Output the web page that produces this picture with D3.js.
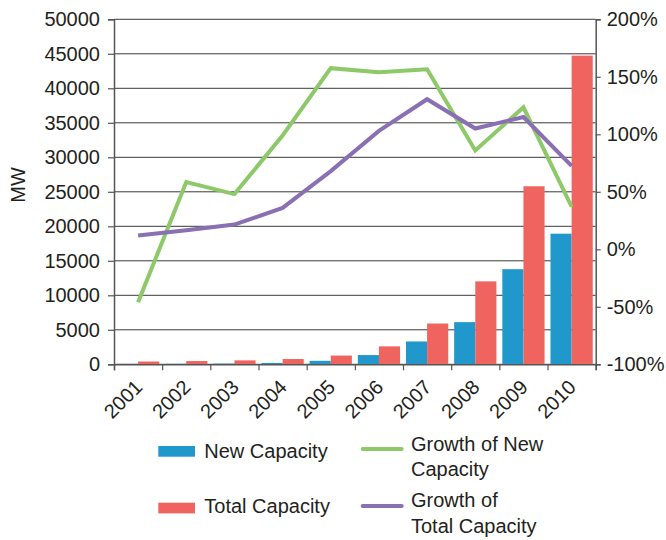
<!DOCTYPE html>
<html>
<head>
<meta charset="utf-8">
<script src="https://cdn.jsdelivr.net/npm/d3@7"></script>
<style>
  html, body { margin: 0; padding: 0; background: #fff; }
  svg { display: block; }
  text { font-family: "Liberation Sans", Arial, Helvetica, sans-serif; fill: #231f20; }
</style>
</head>
<body>
<svg id="chart" width="666" height="540"></svg>
<script>
const years = ["2001","2002","2003","2004","2005","2006","2007","2008","2009","2010"];
const newCapacity   = [57, 66, 98, 197, 503, 1337, 3311, 6110, 13785, 18928];
const totalCapacity = [404, 469, 568, 764, 1266, 2599, 5910, 12020, 25805, 44733];
const growthNew     = [-46, 58.5, 48, 99, 157.5, 154, 156.5, 86, 123.5, 37];
const growthTotal   = [12, 16.5, 21.5, 36, 68, 103, 130.5, 105, 115, 72.5];
const leftTicks  = [0,5000,10000,15000,20000,25000,30000,35000,40000,45000,50000];
const rightTicks = [-100,-50,0,50,100,150,200];

const colors = { newCap: "#2198cc", totalCap: "#f0645f", growthNew: "#8dc869", growthTotal: "#8a6fb3" };

const svg = d3.select("#chart");
const L = 114, R = 595.7, T = 19.3, B = 364.3;

const x = d3.scaleBand().domain(years).range([L, R]).paddingInner(0).paddingOuter(0);
const inner = d3.scaleBand().domain(["new","total"]).range([0, x.bandwidth()]).paddingOuter(0.14).paddingInner(0);
const y = d3.scaleLinear().domain([0, 50000]).range([B, T]);
const y2 = d3.scaleLinear().domain([-100, 200]).range([B, T]);

// gridlines
svg.append("g").selectAll("line").data(leftTicks).join("line")
  .attr("x1", L).attr("x2", R)
  .attr("y1", d => y(d)).attr("y2", d => y(d))
  .attr("stroke", "#3a3a3a").attr("stroke-width", 1);

// bars
const groups = svg.append("g").selectAll("g").data(years).join("g")
  .attr("transform", d => `translate(${x(d)},0)`);
groups.append("rect")
  .attr("x", inner("new")).attr("width", inner.bandwidth())
  .attr("y", (d,i) => y(newCapacity[i])).attr("height", (d,i) => B - y(newCapacity[i]))
  .attr("fill", colors.newCap);
groups.append("rect")
  .attr("x", inner("total")).attr("width", inner.bandwidth())
  .attr("y", (d,i) => y(totalCapacity[i])).attr("height", (d,i) => B - y(totalCapacity[i]))
  .attr("fill", colors.totalCap);

// lines
const cx = d => x(d) + x.bandwidth() / 2;
const lineNew = d3.line().x((d,i) => cx(years[i])).y(d => y2(d));
svg.append("path").datum(growthNew).attr("d", lineNew)
  .attr("fill", "none").attr("stroke", colors.growthNew).attr("stroke-width", 4).attr("stroke-linejoin", "miter");
svg.append("path").datum(growthTotal).attr("d", lineNew)
  .attr("fill", "none").attr("stroke", colors.growthTotal).attr("stroke-width", 4).attr("stroke-linejoin", "miter");

// left axis
const axL = svg.append("g").attr("transform", `translate(${L},0)`)
  .call(d3.axisLeft(y).tickValues(leftTicks).tickSize(6).tickPadding(8).tickFormat(d3.format("d")));
axL.select(".domain").attr("stroke", "#555").attr("stroke-width", 1.5);
axL.selectAll(".tick line").attr("stroke", "#555").attr("stroke-width", 1.2);
axL.selectAll("text").style("font-size", "20px").attr("fill", "#231f20")
  .style("font-family", '"Liberation Sans", Arial, sans-serif');

// right axis
const axR = svg.append("g").attr("transform", `translate(${R},0)`)
  .call(d3.axisRight(y2).tickValues(rightTicks).tickSize(5).tickPadding(6).tickFormat(d => d + "%"));
axR.select(".domain").attr("stroke", "#555").attr("stroke-width", 1.5);
axR.selectAll(".tick line").attr("stroke", "#555").attr("stroke-width", 1.2);
axR.selectAll("text").style("font-size", "20px").attr("fill", "#231f20")
  .style("font-family", '"Liberation Sans", Arial, sans-serif');

// bottom axis: ticks at band boundaries
const xb = d3.scaleLinear().domain([0, years.length]).range([L, R]);
const axB = svg.append("g").attr("transform", `translate(0,${B})`)
  .call(d3.axisBottom(xb).tickValues(d3.range(years.length + 1)).tickSize(6).tickFormat(""));
axB.select(".domain").attr("stroke", "#555").attr("stroke-width", 1.5);
axB.selectAll(".tick line").attr("stroke", "#555").attr("stroke-width", 1.2);

svg.append("g").selectAll("text").data(years).join("text")
  .attr("transform", d => `translate(${cx(d) + 5.6},${B + 24}) rotate(-45)`)
  .attr("text-anchor", "end")
  .style("font-size", "20px")
  .text(d => d);

// y title
svg.append("text")
  .attr("transform", "translate(25,185) rotate(-90)")
  .attr("text-anchor", "middle")
  .style("font-size", "20px")
  .text("MW");

// legend
const lg = svg.append("g");
lg.append("rect").attr("x", 158.3).attr("y", 446).attr("width", 36.7).attr("height", 10.7).attr("fill", colors.newCap);
lg.append("text").attr("x", 204.3).attr("y", 457.7).style("font-size", "20px").text("New Capacity");
lg.append("rect").attr("x", 158.3).attr("y", 502.7).attr("width", 36.7).attr("height", 10.7).attr("fill", colors.totalCap);
lg.append("text").attr("x", 204.3).attr("y", 513.3).style("font-size", "20px").text("Total Capacity");

lg.append("line").attr("x1", 362.7).attr("x2", 401.7).attr("y1", 449).attr("y2", 449)
  .attr("stroke", colors.growthNew).attr("stroke-width", 4).attr("stroke-linecap", "round");
lg.append("text").attr("x", 411).attr("y", 450.7).style("font-size", "20px").text("Growth of New");
lg.append("text").attr("x", 411).attr("y", 476).style("font-size", "20px").text("Capacity");
lg.append("line").attr("x1", 362.7).attr("x2", 401.7).attr("y1", 506).attr("y2", 506)
  .attr("stroke", colors.growthTotal).attr("stroke-width", 4).attr("stroke-linecap", "round");
lg.append("text").attr("x", 411).attr("y", 507.3).style("font-size", "20px").text("Growth of");
lg.append("text").attr("x", 411).attr("y", 533).style("font-size", "20px").text("Total Capacity");
</script>
</body>
</html>
